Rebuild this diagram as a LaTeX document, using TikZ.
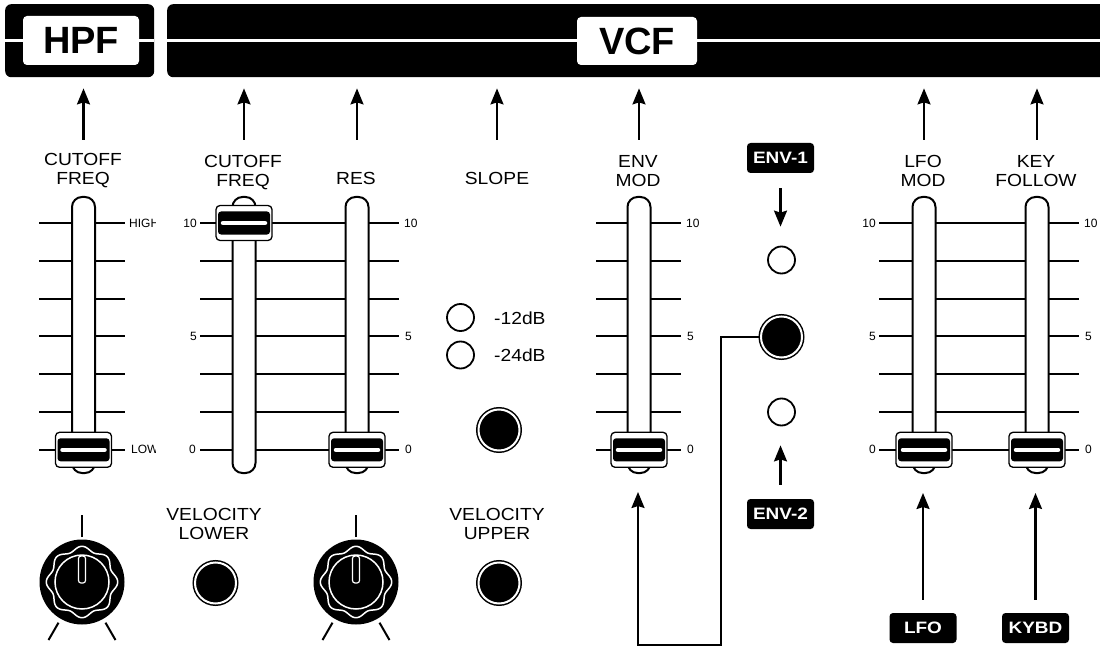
\documentclass[tikz,border=0pt]{standalone}
\usepackage{fontspec}
\setmainfont{Liberation Sans}
\newfontfamily\labfont[FakeStretch=1.1]{Liberation Sans}
\newfontfamily\boxfont[FakeStretch=1.15]{Liberation Sans Bold}
\usetikzlibrary{arrows.meta}

\newcommand\myfader[3]{% name, x, handle y
  \draw[line width=2, fill=white, rounded corners=10] (#2-11.5,197) rectangle (#2+11.5,473);
  \draw[line width=1.3, fill=white, rounded corners=4] (#2-28,#3-17.5) rectangle (#2+28,#3+17.5);
  \fill[black, rounded corners=3] (#2-26,#3-11.5) rectangle (#2+26,#3+11.5);
  \draw[white, line width=4.5, line cap=round] (#2-21,#3) -- (#2+21,#3);
  \coordinate (#1) at (#2,#3);
}
\newcommand\myknob[3]{% name, x, y
  \begin{scope}[shift={(#2,#3)}]
    \fill[black] (0,0) circle (42.5);
    \draw[white, line width=1.5] plot[domain=0:360, samples=181] (\x:{33.5+2.2*cos(8*\x)}) -- cycle;
    \draw[white, line width=1.5] (0,0) circle (27);
    \draw[white, line width=1.2, fill=black, rounded corners=2.5] (-3.5,-26) rectangle (3.5,1);
    \draw[line width=2] (0,-45) -- (0,-67);
    \draw[line width=2] (120:47) -- (120:67);
    \draw[line width=2] (60:47) -- (60:67);
  \end{scope}
  \coordinate (#1) at (#2,#3);
}

\begin{document}
\begin{tikzpicture}[x=1pt,y=-1pt,
  lab/.style={inner sep=0, align=center, anchor=north, font=\labfont\fontsize{17.5}{19}\selectfont},
  num/.style={inner sep=0, font=\fontsize{12}{13}\selectfont},
  tag/.style={fill=black, text=white, rounded corners=3.5, minimum width=67, minimum height=30, inner sep=0, font=\boxfont\fontsize{16.5}{16.5}\selectfont},
  led/.style={circle, draw, line width=1.8, fill=white, minimum size=27, inner sep=0},
  btn/.style={circle, draw=black, double=white, double distance=2, line width=1.5, fill=black, minimum size=41, inner sep=0},
  bar/.style={fill=black, rounded corners=6, inner sep=0, anchor=north west},
  title/.style={fill=white, rounded corners=4, inner sep=0, font=\bfseries\fontsize{38}{38}\selectfont},
  tick/.style={line width=2},
  arr/.style={line width=2.2, -{Stealth[length=16pt,width=13pt,inset=2pt]}}
]
\useasboundingbox (0,0) rectangle (1100,647);
\clip (0,0) rectangle (1100,647);

% header
\node[bar, minimum width=149, minimum height=73] (hpfbar) at (5,4) {};
\draw[white, line width=3.5] (hpfbar.west) -- (hpfbar.east);
\node[title, minimum width=116, minimum height=49] (hpft) at (81,40.5) {HPF};
\node[bar, minimum width=960, minimum height=73] (vcfbar) at (167,4) {};
\draw[white, line width=3.5] (vcfbar.west) -- (vcfbar.east);
\node[title, minimum width=120, minimum height=48] (vcft) at (637,41) {VCF};

% tick lines
\foreach \ty in {223,260.8,298.6,336.4,374.2,412,449.8} {
  \draw[tick] (39,\ty) -- (125,\ty);
  \draw[tick] (200,\ty) -- (399,\ty);
  \draw[tick] (596,\ty) -- (681,\ty);
  \draw[tick] (879,\ty) -- (1079,\ty);
}

% faders
\myfader{f1}{83.5}{449.8}
\myfader{f2}{244}{223}
\myfader{f3}{357}{449.8}
\myfader{f4}{639}{449.8}
\myfader{f5}{924}{449.8}
\myfader{f6}{1037}{449.8}

% scale numbers
\begin{scope}
  \clip (0,200) rectangle (155,470);
  \node[num, anchor=west] (hi) at (129,223) {HIGH};
  \node[num, anchor=west] (lo) at (131,449.8) {LOW};
\end{scope}
\node[num, anchor=east] (c10) at (197,223) {10};
\node[num, anchor=east] (c5) at (197,336.4) {5};
\node[num, anchor=east] (c0) at (196,449.8) {0};
\node[num, anchor=west] (r10) at (404,223) {10};
\node[num, anchor=west] (r5) at (405,336.4) {5};
\node[num, anchor=west] (r0) at (405,449.8) {0};
\node[num, anchor=west] (e10) at (686,223) {10};
\node[num, anchor=west] (e5) at (687,336.4) {5};
\node[num, anchor=west] (e0) at (687,449.8) {0};
\node[num, anchor=east] (l10) at (876,223) {10};
\node[num, anchor=east] (l5) at (876,336.4) {5};
\node[num, anchor=east] (l0) at (876,449.8) {0};
\node[num, anchor=west] (k10) at (1084,223) {10};
\node[num, anchor=west] (k5) at (1085,336.4) {5};
\node[num, anchor=west] (k0) at (1085,449.8) {0};

% labels
\node[lab] (hpfcut) at (83,153) {CUTOFF\\FREQ};
\node[lab] (vcfcut) at (243,155) {CUTOFF\\FREQ};
\node[lab] (res) at (356,172) {RES};
\node[lab] (slope) at (497,172) {SLOPE};
\node[lab] (envmod) at (638,155) {ENV\\MOD};
\node[lab] (lfomod) at (923,155) {LFO\\MOD};
\node[lab] (keyf) at (1036,155) {KEY\\FOLLOW};
\node[lab] (vlow) at (214,508) {VELOCITY\\LOWER};
\node[lab] (vup) at (497,508) {VELOCITY\\UPPER};

% arrows to header
\coordinate (abase) at (0,140);
\draw[arr, shorten >=11pt] (f1 |- abase) -- (f1 |- hpfbar.south);
\draw[arr, shorten >=11pt] (f2 |- abase) -- (f2 |- vcfbar.south);
\draw[arr, shorten >=11pt] (f3 |- abase) -- (f3 |- vcfbar.south);
\draw[arr, shorten >=11pt] (slope.north |- abase) -- (slope.north |- vcfbar.south);
\draw[arr, shorten >=11pt] (f4 |- abase) -- (f4 |- vcfbar.south);
\draw[arr, shorten >=11pt] (f5 |- abase) -- (f5 |- vcfbar.south);
\draw[arr, shorten >=11pt] (f6 |- abase) -- (f6 |- vcfbar.south);

% slope section
\node[led] (led12) at (460.5,317.5) {};
\node[led] (led24) at (460.5,355) {};
\node[num, anchor=west, font=\labfont\fontsize{17.5}{19}\selectfont] (t12) at (494,318) {-12dB};
\node[num, anchor=west, font=\labfont\fontsize{17.5}{19}\selectfont] (t24) at (494,355.5) {-24dB};
\node[btn] (slopebtn) at (499,430) {};

% velocity buttons
\node[btn] (vlowbtn) at (215.5,583) {};
\node[btn] (vupbtn) at (499,583) {};

% knobs
\myknob{k1}{82}{582}
\myknob{k2}{356}{582}

% envelope select
\node[tag] (env1) at (780.5,158) {ENV-1};
\node[tag] (env2) at (780.5,514) {ENV-2};
\node[led] (ledA) at (781.5,260) {};
\node[led] (ledB) at (781.5,412) {};
\node[btn] (envbtn) at (781.5,337) {};
\draw[arr, shorten <=15pt, shorten >=19pt] (env1.south) -- (env1.south |- ledA.north);
\draw[arr, shorten <=14pt, shorten >=19pt] (env2.north) -- (env2.north |- ledB.south);
\coordinate (bend) at (721,645);
\coordinate (envin) at (638,492);
\draw[arr] (envbtn.west) -| (bend) -| (envin);

% lfo / kybd sources
\node[tag] (lfo) at (923,628) {LFO};
\node[tag] (kybd) at (1035.5,628) {KYBD};
\coordinate (lfoin) at (923,493);
\coordinate (kybdin) at (1035.5,493);
\draw[arr, shorten <=13pt] (lfo.north) -- (lfo.north |- lfoin);
\draw[arr, shorten <=13pt] (kybd.north) -- (kybd.north |- kybdin);
\end{tikzpicture}
\end{document}
